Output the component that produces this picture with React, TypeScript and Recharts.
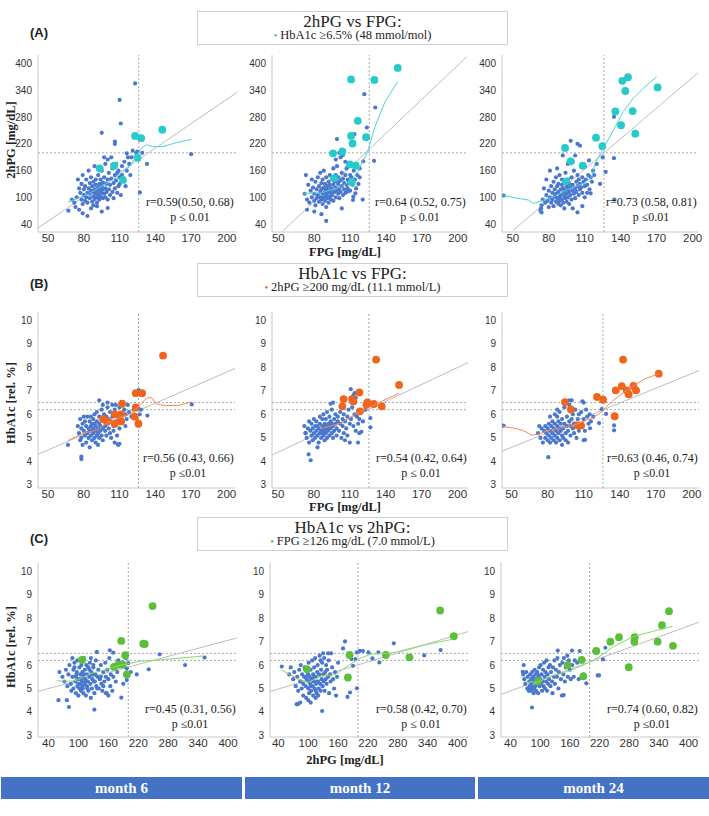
import React from "react"
import { ScatterChart, Scatter, XAxis, YAxis, ReferenceLine } from "recharts"

// ---- tick labels ----
const fpgTicks = [50, 80, 110, 140, 170, 200]
const pg2Ticks = [40, 100, 160, 220, 280, 340, 400]
const hbaTicks = [3, 4, 5, 6, 7, 8, 9, 10]

const months = ["month 6", "month 12", "month 24"]

// ---- row A: 2hPG vs FPG ----
const a1Blue = [[70,95],[72,88],[74,100],[75,140],[76,120],[77,110],[78,95],[78,130],[79,85],[79,150],[80,105],[80,118],[81,92],[81,125],[82,100],[82,140],[83,110],[83,88],[84,120],[84,160],[85,98],[85,132],[85,108],[86,115],[86,145],[87,90],[87,125],[88,102],[88,135],[88,112],[89,96],[89,118],[89,170],[90,108],[90,128],[90,140],[91,100],[91,115],[91,88],[92,122],[92,105],[92,150],[93,112],[93,130],[93,95],[94,118],[94,140],[94,102],[95,125],[95,110],[95,160],[96,98],[96,133],[96,118],[97,108],[97,145],[97,190],[98,120],[98,100],[98,175],[99,130],[99,112],[100,95],[100,140],[100,185],[101,118],[101,155],[102,105],[102,128],[103,190],[103,142],[104,112],[104,165],[105,132],[105,98],[106,150],[106,120],[107,175],[107,138],[108,155],[108,110],[109,125],[109,160],[110,145],[110,130],[111,105],[112,170],[112,150],[113,140],[114,180],[115,125],[116,160],[117,190],[118,175],[119,150],[123,356],[110,319],[111,266],[95,245],[106,225],[106,220],[170,197],[133,175],[127,111],[121,205],[116,199],[124,200],[125,203],[67,70],[79,64],[83,58],[95,68],[73,78],[76,72],[86,75],[91,80],[100,76],[88,82],[129,200],[120,190],[126,185]]
const a1Hi = [[93.3,165],[105.3,171],[112.8,139],[123,238],[128,233],[145.8,252],[125,189]]
const a1Loess = [[66.8,90],[82,105],[101.7,135],[118.4,169],[128,210],[132.4,218],[138,214],[146.4,214],[157.5,223],[170,230]]
const a1Reg = [[41.5,31],[208.5,336]]

const a2Blue = [[72,108],[73,150],[74,95],[75,128],[76,88],[77,115],[78,100],[78,140],[79,122],[80,92],[80,108],[81,135],[81,82],[82,118],[82,98],[83,145],[83,105],[84,90],[84,125],[85,112],[85,100],[85,155],[86,132],[86,95],[86,118],[87,108],[87,140],[87,85],[88,122],[88,100],[88,160],[89,112],[89,92],[89,130],[90,105],[90,118],[90,145],[90,78],[91,125],[91,98],[91,110],[92,135],[92,88],[92,115],[93,102],[93,128],[93,150],[94,110],[94,95],[94,120],[95,140],[95,105],[95,118],[96,128],[96,92],[96,165],[97,112],[97,135],[98,100],[98,122],[98,150],[99,115],[99,170],[100,108],[100,130],[100,145],[101,120],[101,98],[102,138],[102,112],[103,155],[103,125],[104,105],[104,142],[105,118],[105,132],[106,150],[106,110],[107,128],[107,165],[108,140],[108,120],[109,135],[110,115],[110,150],[111,145],[112,128],[113,160],[114,140],[115,120],[116,150],[117,130],[118,145],[121.9,332],[131,302],[124,257],[113.6,242],[99,231],[130,182],[121,181],[120.5,95],[103,75],[90,47],[114.4,109],[112.7,101],[112.4,94],[100,134],[108,113],[102,190],[104,195],[98,185],[101,200],[106,180],[115,175],[118,165],[74,72],[80,68],[86,62]]
const a2Hi = [[149.8,391],[110.8,365],[130.3,364],[116.4,272],[110.8,238],[123.3,235],[112,221],[103.5,203],[95.7,199],[109.7,174],[114.7,171],[111.4,134],[96.8,143]]
const a2Loess = [[70.9,109],[86.2,110],[103,124],[111.4,139],[116.9,161],[124.7,203],[130.8,259],[139.2,315],[149.8,360]]
const a2Reg = [[54.2,25],[207.5,416]]

const a3Blue = [[73,70],[74,82],[75,95],[76,120],[77,88],[78,105],[78,140],[79,92],[80,115],[80,78],[81,100],[81,160],[82,125],[82,88],[83,110],[83,95],[84,135],[84,80],[85,102],[85,118],[86,90],[86,145],[86,108],[87,98],[87,125],[87,165],[88,85],[88,112],[88,130],[89,100],[89,92],[89,150],[90,118],[90,105],[90,82],[91,128],[91,95],[91,140],[92,110],[92,88],[92,120],[93,102],[93,135],[93,75],[94,115],[94,98],[94,155],[95,108],[95,125],[95,90],[96,118],[96,140],[96,100],[97,112],[97,85],[97,130],[98,105],[98,122],[99,95],[99,145],[100,115],[100,128],[100,75],[101,108],[101,160],[102,120],[102,98],[103,135],[103,112],[104,125],[104,150],[105,105],[105,140],[106,118],[106,130],[107,122],[108,145],[108,110],[109,135],[110,125],[110,100],[111,140],[112,128],[113,150],[114,118],[115,145],[116,135],[117,160],[118,150],[112,110],[108,80],[42.5,104],[98.3,227],[104,220],[106,216],[91.7,194],[102,194],[113.6,183],[134.4,281],[134.4,188],[134.7,95],[127.5,157],[122.8,130],[115,109],[104,66],[74,66],[73.6,75],[120,175],[125,190],[96,175],[100,180],[110,170]]
const a3Hi = [[146.1,370],[141.4,362],[143.9,339],[170.8,347],[135.6,293],[150,294],[140.3,262],[152.2,243],[119.4,234],[124.7,215],[93.6,211],[98.3,181],[108.3,171],[94.4,136]]
const a3Loess = [[41.4,104],[56,97],[63,94],[67.2,86],[71.4,90],[83.9,101],[97.8,120],[108.9,131],[115.8,146],[118.6,176],[124.2,203],[133.9,251],[142.2,293],[150.6,323],[158.9,345],[170,371]]
const a3Reg = [[50,25],[204.5,380]]

// ---- row B: HbA1c vs FPG ----
const b1Blue = [[75,5.5],[76,5.2],[77,4.9],[77,5.8],[78,5.4],[78,5.0],[79,5.6],[79,4.7],[80,5.9],[80,5.3],[81,5.1],[81,5.7],[82,5.5],[82,4.8],[83,5.2],[83,5.9],[84,5.4],[84,5.0],[85,5.7],[85,5.3],[85,4.6],[86,5.5],[86,5.1],[86,5.9],[87,5.3],[87,4.9],[87,5.6],[88,5.2],[88,5.8],[88,5.4],[89,5.0],[89,5.6],[89,6.0],[90,5.3],[90,5.5],[90,4.8],[91,5.7],[91,5.1],[91,6.1],[92,5.4],[92,5.2],[92,4.7],[93,5.6],[93,5.9],[93,5.0],[94,5.3],[94,5.5],[95,5.8],[95,5.1],[95,6.2],[96,5.4],[96,4.9],[97,5.7],[97,6.0],[98,5.3],[98,5.5],[99,5.9],[99,5.1],[100,5.6],[100,6.3],[101,5.4],[101,5.8],[102,5.2],[102,6.1],[103,5.7],[103,5.0],[104,5.9],[104,6.4],[105,5.5],[105,5.3],[106,6.2],[106,4.8],[107,5.6],[108,6.0],[108,5.1],[109,5.8],[109,4.7],[110,6.3],[110,5.4],[111,5.9],[112,6.5],[113,5.7],[114,6.2],[115,6.0],[116,5.8],[117,6.4],[118,6.1],[115,5.5],[93,6.6],[96,6.4],[100,6.5],[107,6.4],[170.7,6.42],[133.5,5.95],[126.2,7.03],[78,4.1],[78,4.2],[66.8,4.7],[108.8,4.73],[110,4.75],[120,5.9],[122,6.2],[125,6.3],[127,6.0],[128,6.2]]
const b1Hi = [[146.6,8.5],[123.7,6.9],[129,6.9],[112.2,6.45],[123.7,6.3],[106,6.0],[111.3,6.0],[96.2,5.8],[99.6,5.7],[106,5.6],[111.3,5.7],[122.8,5.9],[125.9,5.6]]
const b1Loess = [[66.8,4.89],[79.4,5.19],[90.6,5.33],[99,5.62],[108.8,5.83],[120,6.05],[127,6.39],[132.6,6.68],[136.8,6.72],[139.6,6.53],[142.4,6.42],[149.4,6.37],[160.6,6.39],[170.4,6.53]]
const b1Reg = [[41.6,4.3],[207,7.95]]

const b2Blue = [[72,5.5],[73,5.2],[74,5.0],[75,5.4],[76,5.7],[76,4.8],[77,5.3],[78,5.6],[78,5.1],[79,5.4],[79,4.9],[80,5.8],[80,5.2],[81,5.5],[81,5.0],[82,5.3],[82,5.7],[83,5.1],[83,5.5],[84,5.4],[84,4.8],[85,5.6],[85,5.2],[85,5.9],[86,5.3],[86,5.0],[87,5.5],[87,5.8],[87,5.2],[88,5.4],[88,5.1],[88,6.0],[89,5.6],[89,5.3],[89,4.9],[90,5.5],[90,5.2],[90,5.8],[91,5.4],[91,5.0],[91,6.1],[92,5.6],[92,5.3],[93,5.5],[93,5.1],[93,5.9],[94,5.4],[94,5.7],[95,5.2],[95,5.6],[95,6.2],[96,5.5],[96,5.0],[97,5.8],[97,5.3],[98,5.6],[98,6.0],[99,5.4],[99,5.1],[100,5.7],[100,5.9],[101,5.3],[102,5.6],[102,6.1],[103,5.0],[104,5.8],[104,5.5],[105,5.2],[105,6.0],[106,5.7],[106,4.9],[107,5.4],[108,5.9],[108,5.1],[109,6.2],[110,5.6],[110,4.8],[111,5.8],[112,6.3],[113,5.5],[114,6.0],[115,5.3],[116,5.9],[117,5.6],[118,5.8],[114,6.9],[115,6.7],[96,6.5],[94,6.45],[83,4.6],[110.8,7.07],[77.3,4.05],[75.6,4.3],[116.9,4.8],[127.2,5.84],[127.2,5.45],[119.7,5.26],[118,5.2],[73.1,5.2],[121,5.7],[123,6.2],[113,6.8]]
const b2Hi = [[132,8.33],[151.2,7.25],[118,6.93],[104.9,6.65],[111.9,6.65],[113,6.55],[124.7,6.51],[123.9,6.41],[130,6.44],[136.7,6.34],[103.8,6.34],[118.5,6.13]]
const b2Loess = [[85,5.38],[103,5.63],[114.1,5.99],[125.3,6.27],[136.4,6.55],[151.2,6.9]]
const b2Reg = [[45,4.27],[208.8,8.2]]

const b3Blue = [[72,5.2],[73,5.5],[74,5.0],[75,5.4],[76,4.8],[77,5.3],[78,5.5],[78,5.0],[79,5.2],[80,5.4],[80,4.9],[81,5.6],[81,5.1],[82,5.3],[82,4.8],[83,5.5],[83,5.0],[84,5.2],[84,5.7],[85,5.4],[85,4.9],[86,5.6],[86,5.1],[86,6.0],[87,5.3],[87,4.8],[88,5.5],[88,5.0],[88,6.2],[89,5.2],[89,5.7],[90,5.4],[90,4.9],[90,6.1],[91,5.3],[91,5.6],[92,5.1],[92,5.8],[92,4.7],[93,5.4],[93,5.0],[94,5.6],[94,6.3],[95,5.2],[95,4.9],[96,5.5],[96,5.9],[97,5.3],[97,4.8],[98,5.7],[98,6.4],[99,5.1],[99,5.5],[100,5.8],[100,6.6],[101,5.4],[101,6.0],[102,5.6],[102,5.2],[103,6.2],[104,5.5],[104,5.0],[105,5.8],[106,6.0],[106,5.3],[107,5.6],[108,6.1],[109,5.5],[110,6.5],[110,5.8],[111,5.3],[112,6.2],[113,5.9],[114,5.6],[115,6.0],[116,5.7],[118,5.9],[98,6.6],[96,6.5],[88,5.9],[82,5.9],[80.6,4.18],[43.3,5.52],[108.9,6.55],[125,6.22],[128.6,6.02],[135.3,5.53],[135.3,5.32],[122.8,5.63],[115.3,5.41],[111.1,4.92],[110,4.9]]
const b3Hi = [[142.8,8.33],[172.5,7.73],[141.7,7.2],[151.4,7.21],[136.7,7.02],[145.8,7.02],[153.6,7.02],[147.5,6.85],[121.1,6.74],[126.1,6.62],[94.4,6.52],[99.4,6.21],[135.8,5.92],[105,5.53],[107.8,5.53]]
const b3Loess = [[42.2,5.49],[54.2,5.39],[61.1,5.28],[66.7,5.11],[72.2,5.16],[81.9,5.34],[90.3,5.41],[98.6,5.49],[106.9,5.63],[118,5.87],[125,6.11],[131.9,6.47],[138.9,6.77],[148.6,7.12],[159.7,7.48],[172.5,7.73]]
const b3Reg = [[42,4.43],[206,7.86]]

// ---- row C: HbA1c vs 2hPG ----
const c1Blue = [[62,5.7],[68,5.5],[72,5.3],[75,5.8],[78,5.1],[80,5.6],[82,6.0],[85,5.2],[86,4.9],[88,5.5],[90,5.8],[90,5.0],[92,6.1],[94,5.3],[95,4.8],[96,5.6],[98,5.1],[98,6.2],[100,5.4],[100,4.7],[102,5.9],[103,5.2],[104,5.6],[105,4.9],[106,6.0],[107,5.3],[108,5.7],[109,5.0],[110,5.5],[110,4.8],[111,6.3],[112,5.2],[113,5.8],[114,5.4],[115,4.7],[116,6.0],[117,5.1],[118,5.6],[119,5.3],[120,5.9],[120,4.9],[122,5.5],[123,6.1],[124,5.2],[125,4.6],[126,5.7],[127,5.0],[128,5.4],[130,5.9],[131,5.3],[132,4.8],[134,5.6],[135,6.2],[136,5.1],[138,5.5],[140,5.8],[141,5.0],[143,5.4],[145,6.0],[146,5.2],[148,4.9],[150,5.7],[152,5.3],[154,6.1],[155,5.5],[157,4.8],[158,5.8],[160,5.4],[162,6.3],[164,5.1],[165,5.6],[168,4.9],[170,5.5],[172,6.0],[175,5.3],[178,5.7],[180,6.2],[95,5.5],[100,5.2],[105,5.4],[108,5.1],[112,5.6],[115,5.3],[118,5.0],[102,5.0],[97,5.7],[122,5.8],[128,5.6],[133,5.3],[138,5.0],[145,5.5],[150,5.1],[160,4.7],[155,4.8],[130,6.0],[125,6.3],[88,6.3],[92,5.9],[353,6.32],[314,6.0],[263,6.46],[241,5.82],[217,5.6],[186,4.61],[132,4.1],[81,4.21],[60,4.5],[77,4.5],[163,6.63],[170,6.53],[137,6.56],[200,6.08],[197,5.85],[197,5.36],[190,5.2],[205,5.7],[195,6.3]]
const c1Hi = [[248.7,8.52],[186,7.03],[230,6.91],[233,6.9],[194,6.42],[107.3,6.22],[171.3,5.92],[180,6.02],[186.7,6.03],[188.7,6.02],[197.3,5.6]]
const c1Loess = [[56.7,5.33],[80,5.31],[96.7,5.35],[123.3,5.63],[150,5.78],[183.3,5.99],[216.7,6.13],[223.3,6.17],[250,6.2],[290,6.27],[351.3,6.39]]
const c1Reg = [[19,4.88],[418,7.16]]

const c2Blue = [[62,5.6],[65,5.9],[70,5.4],[72,5.7],[75,5.1],[78,5.5],[80,4.9],[82,5.8],[84,5.3],[85,6.0],[87,5.0],[88,5.6],[90,5.2],[90,4.7],[92,5.5],[93,5.9],[95,5.1],[96,4.6],[97,5.4],[98,5.7],[100,5.0],[100,5.3],[101,6.1],[102,4.8],[103,5.5],[104,5.2],[105,5.8],[106,4.9],[107,5.4],[108,6.2],[109,5.1],[110,5.6],[110,4.7],[111,5.3],[112,5.9],[113,5.0],[114,6.3],[115,5.5],[116,5.2],[117,4.8],[118,5.7],[119,6.0],[120,5.3],[121,5.0],[122,5.6],[123,6.4],[124,5.2],[125,4.9],[126,5.8],[127,5.4],[128,6.1],[129,5.1],[130,5.6],[131,5.3],[132,6.3],[133,4.9],[134,5.7],[135,5.4],[136,6.0],[137,5.2],[138,5.8],[140,5.5],[141,6.2],[142,4.8],[144,5.6],[145,5.3],[146,6.5],[148,5.9],[150,5.4],[152,5.0],[154,5.7],[156,4.7],[158,5.5],[160,6.1],[95,5.5],[100,5.6],[105,5.1],[108,5.4],[112,5.5],[115,4.9],[118,5.3],[100,4.5],[105,4.4],[115,4.6],[120,4.7],[130,6.5],[140,6.5],[125,6.2],[84,4.4],[174,7.01],[170,6.71],[204,6.61],[198,6.54],[221,6.54],[229,6.29],[241,6.54],[272,6.93],[333,6.41],[366,6.64],[243,6.11],[187,6.26],[190,5.97],[184,4.83],[198,5.01],[179,4.64],[128,4.04],[77,4.33],[79,4.33],[47,5.94],[195,6.26],[210,6.6]]
const c2Hi = [[365,8.33],[392.5,7.23],[183.1,6.43],[256,6.43],[303.5,6.33],[97.3,5.83],[179.8,5.47]]
const c2Loess = [[46.7,5.79],[80.1,5.4],[100.2,5.26],[127,5.54],[153.7,5.59],[180.5,5.97],[200.5,6.26],[227.3,6.47],[267.4,6.51],[327.6,6.83],[391.2,7.11]]
const c2Reg = [[23.3,4.87],[421,7.43]]

const c3Blue = [[66,5.6],[68,5.4],[70,5.2],[72,5.7],[74,5.0],[75,5.5],[76,5.0],[77,4.9],[78,5.3],[79,5.1],[80,5.0],[80,5.6],[81,4.9],[82,5.4],[83,5.2],[84,5.7],[85,5.0],[86,5.5],[87,4.8],[88,5.3],[89,5.8],[90,5.1],[91,5.6],[92,4.9],[93,5.4],[94,5.7],[95,5.2],[96,4.8],[97,5.5],[98,5.9],[99,5.1],[100,5.4],[101,6.0],[102,5.2],[103,5.6],[104,4.9],[105,5.3],[106,5.8],[107,5.1],[108,6.1],[109,5.5],[110,5.0],[111,5.7],[112,5.3],[113,6.2],[114,4.9],[115,5.6],[116,5.2],[117,5.9],[118,5.4],[120,6.0],[121,5.1],[122,5.7],[124,5.3],[125,4.8],[126,5.9],[128,5.5],[129,6.2],[130,5.2],[132,5.8],[134,5.5],[135,6.3],[137,5.0],[138,5.7],[140,6.0],[142,5.4],[144,4.7],[145,6.1],[147,5.6],[148,6.3],[150,5.3],[152,5.9],[155,6.4],[156,5.5],[158,6.2],[160,5.8],[162,5.4],[165,6.0],[168,5.5],[170,6.2],[175,6.1],[178,5.4],[180,6.6],[78,5.0],[79,5.05],[81,5.0],[83,4.95],[84,5.05],[86,5.0],[88,5.0],[90,5.4],[95,5.6],[209.6,6.58],[231.8,6.74],[227,6.24],[216.4,5.56],[219,5.56],[193.4,5.22],[164.5,6.62],[135.6,6.62],[147.7,4.72],[83.7,4.19],[66.9,6.0],[64.9,5.71],[82.4,5.08],[188,5.6]]
const c3Hi = [[360.3,8.3],[346.2,7.7],[259.4,7.19],[291,7.19],[242,7.0],[290.4,7.0],[337.4,7.0],[368.4,6.82],[213.6,6.6],[184,6.22],[155.7,6.0],[187.2,5.52],[279.1,5.91],[95.9,5.31]]
const c3Loess = [[66.9,5.29],[93.8,5.26],[120.8,5.51],[154.4,5.72],[181.3,5.94],[215,6.29],[248.6,6.79],[289,7.22],[326,7.43],[367.7,7.65]]
const c3Reg = [[21,4.75],[421,7.83]]

const statsA = ["r=0.59(0.50, 0.68)", "r=0.64 (0.52, 0.75)", "r=0.73 (0.58, 0.81)"]
const statsB = ["r=0.56 (0.43, 0.66)", "r=0.54 (0.42, 0.64)", "r=0.63 (0.46, 0.74)"]
const statsC = ["r=0.45 (0.31, 0.56)", "r=0.58 (0.42, 0.70)", "r=0.74 (0.60, 0.82)"]
const pA = ["p ≤ 0.01", "p ≤ 0.01", "p ≤0.01"]
const pB = ["p ≤0.01", "p ≤ 0.01", "p ≤0.01"]
const pC = ["p ≤0.01", "p ≤ 0.01", "p ≤0.01"]

const BLUE = "#4a78cf"
const CYAN = "#27c9c9"
const ORANGE = "#f0641e"
const GREEN = "#5cbf3a"
const SERIF = "'Liberation Serif', 'Times New Roman', serif"
const SANS = "'Liberation Sans', Arial, sans-serif"

const toPts = (arr) => arr.map(([x, y]) => ({ x, y }))

const dot = (r, fill) => (p) => <circle cx={p.cx} cy={p.cy} r={r} fill={fill} />
const none = () => <g />

function Panel({ plot, xDomain, yDomain, xTicks, yTicks, blue, hi, hiColor, loess, loessColor, reg, refX, refYs, stat, p, statTop }) {
  const [l, t, r, b] = plot
  const padL = 32
  const padT = 6
  const padR = 6
  const axisH = 20
  const w = r - l + padL + padR
  const h = b - t + padT + axisH
  const xTick = { fontSize: 11.5, fill: "#333", fontFamily: SANS }
  const yTick = { fontSize: 10, fill: "#333", fontFamily: SANS }
  return (
    <>
      <div style={{ position: "absolute", left: l - padL, top: t - padT }}>
        <ScatterChart width={w} height={h} margin={{ top: padT, right: padR, left: 0, bottom: 0 }}>
          <XAxis type="number" dataKey="x" domain={xDomain} ticks={xTicks} allowDataOverflow height={axisH}
            stroke="#c8c8c8" tickLine={false} tickSize={0} tickMargin={2} tick={xTick} interval={0} />
          <YAxis type="number" dataKey="y" domain={yDomain} ticks={yTicks} allowDataOverflow width={padL}
            stroke="#c8c8c8" tickLine={false} tickSize={3} tickMargin={3} tick={yTick} interval={0} />
          <ReferenceLine x={refX} stroke="#a8a8a8" strokeDasharray="2 2" />
          {refYs.map((v) => (
            <ReferenceLine key={v} y={v} stroke="#a8a8a8" strokeDasharray="2 2" />
          ))}
          <Scatter data={toPts(blue)} shape={dot(2.1, BLUE)} isAnimationActive={false} />
          <ReferenceLine segment={toPts(reg)} stroke="#bdbdbd" strokeWidth={1} ifOverflow="hidden" />
          <Scatter data={toPts(hi)} shape={dot(3.9, hiColor)} isAnimationActive={false} />
          <Scatter data={toPts(loess)} shape={none} line={{ stroke: loessColor, strokeWidth: 1 }} lineType="joint" isAnimationActive={false} />
        </ScatterChart>
      </div>
      <div style={{ position: "absolute", left: r - 92, width: 90, top: statTop, textAlign: "center", fontFamily: SERIF, fontSize: 12, lineHeight: "15px", color: "#222", whiteSpace: "nowrap" }}>
        <div>{stat}</div>
        <div>{p}</div>
      </div>
    </>
  )
}

function TitleBox({ top, title, legend, color }) {
  return (
    <div style={{ position: "absolute", left: 197, top, width: 309, height: 32, border: "1px solid #cfcfcf", fontFamily: SERIF, color: "#222" }}>
      <div style={{ position: "absolute", left: 0, right: 0, top: 2, textAlign: "center", fontSize: 17, lineHeight: "15px" }}>{title}</div>
      <div style={{ position: "absolute", left: 0, right: 0, top: 17, textAlign: "center", fontSize: 12.5, lineHeight: "12px" }}>
        <span style={{ color, fontSize: 11 }}>• </span>{legend}
      </div>
    </div>
  )
}

function YLabel({ cy, text }) {
  return (
    <div style={{ position: "absolute", left: 11 - 100, top: cy - 8, width: 200, height: 16, lineHeight: "16px", textAlign: "center", transform: "rotate(-90deg)", fontFamily: SERIF, fontWeight: "bold", fontSize: 12.5, color: "#222" }}>
      {text}
    </div>
  )
}

function XLabel({ cy, text }) {
  return (
    <div style={{ position: "absolute", left: 245, width: 200, top: cy - 8, lineHeight: "16px", textAlign: "center", fontFamily: SERIF, fontWeight: "bold", fontSize: 12.5, color: "#222" }}>
      {text}
    </div>
  )
}

function RowTag({ top, text }) {
  return (
    <div style={{ position: "absolute", left: 30, top, fontFamily: SANS, fontWeight: "bold", fontSize: 13, color: "#222" }}>{text}</div>
  )
}

export default function App() {
  const rowA = [
    { plot: [38, 55, 237, 232], xDomain: [41.5, 208.5], blue: a1Blue, hi: a1Hi, loess: a1Loess, reg: a1Reg },
    { plot: [272, 55, 467, 232], xDomain: [44.7, 207.7], blue: a2Blue, hi: a2Hi, loess: a2Loess, reg: a2Reg },
    { plot: [502, 55, 698, 232], xDomain: [41, 204.5], blue: a3Blue, hi: a3Hi, loess: a3Loess, reg: a3Reg },
  ]
  const rowB = [
    { plot: [38, 312, 235, 488], xDomain: [41.6, 207], blue: b1Blue, hi: b1Hi, loess: b1Loess, reg: b1Reg },
    { plot: [272, 312, 468, 488], xDomain: [45, 208.8], blue: b2Blue, hi: b2Hi, loess: b2Loess, reg: b2Reg },
    { plot: [502, 312, 699, 488], xDomain: [42, 206], blue: b3Blue, hi: b3Hi, loess: b3Loess, reg: b3Reg },
  ]
  const rowC = [
    { plot: [38, 562, 237, 737], xDomain: [19, 418], blue: c1Blue, hi: c1Hi, loess: c1Loess, reg: c1Reg },
    { plot: [270, 562, 468, 737], xDomain: [23.3, 421], blue: c2Blue, hi: c2Hi, loess: c2Loess, reg: c2Reg },
    { plot: [501, 562, 699, 737], xDomain: [21, 421], blue: c3Blue, hi: c3Hi, loess: c3Loess, reg: c3Reg },
  ]
  const cells = [[1, 242], [245, 475], [478, 709]]

  return (
    <div style={{ position: "absolute", left: 0, top: 0, width: 709, height: 816, background: "#fff", overflow: "hidden" }}>
      <RowTag top={25} text="(A)" />
      <TitleBox top={11} title="2hPG vs FPG:" legend="HbA1c ≥6.5% (48 mmol/mol)" color={CYAN} />
      <YLabel cy={140} text="2hPG [mg/dL]" />
      {rowA.map((c, i) => (
        <Panel key={"a" + i} {...c} yDomain={[22, 420]} xTicks={fpgTicks} yTicks={pg2Ticks} hiColor={CYAN} loessColor="#4fd3d3"
          refX={126} refYs={[200]} stat={statsA[i]} p={pA[i]} statTop={195} />
      ))}
      <XLabel cy={252} text="FPG [mg/dL]" />

      <RowTag top={276} text="(B)" />
      <TitleBox top={263} title="HbA1c vs FPG:" legend="2hPG ≥200 mg/dL (11.1 mmol/L)" color={ORANGE} />
      <YLabel cy={403} text="HbA1c [rel. %]" />
      {rowB.map((c, i) => (
        <Panel key={"b" + i} {...c} yDomain={[2.87, 10.35]} xTicks={fpgTicks} yTicks={hbaTicks} hiColor={ORANGE} loessColor="#f08a58"
          refX={126} refYs={[6.5, 6.2]} stat={statsB[i]} p={pB[i]} statTop={451} />
      ))}
      <XLabel cy={507} text="FPG [mg/dL]" />

      <RowTag top={531} text="(C)" />
      <TitleBox top={517} title="HbA1c vs 2hPG:" legend="FPG ≥126 mg/dL (7.0 mmol/L)" color={GREEN} />
      <YLabel cy={647} text="HbA1c [rel. %]" />
      {rowC.map((c, i) => (
        <Panel key={"c" + i} {...c} yDomain={[2.93, 10.4]} xTicks={pg2Ticks} yTicks={hbaTicks} hiColor={GREEN} loessColor="#8fd66a"
          refX={200} refYs={[6.5, 6.2]} stat={statsC[i]} p={pC[i]} statTop={702} />
      ))}
      <XLabel cy={760} text="2hPG [mg/dL]" />

      {cells.map(([a, b], i) => (
        <div key={i} style={{ position: "absolute", left: a, width: b - a, top: 777, height: 22, background: "#4472c4", color: "#fff", fontFamily: SERIF, fontWeight: "bold", fontSize: 15, lineHeight: "22px", textAlign: "center" }}>
          {months[i]}
        </div>
      ))}
    </div>
  )
}
